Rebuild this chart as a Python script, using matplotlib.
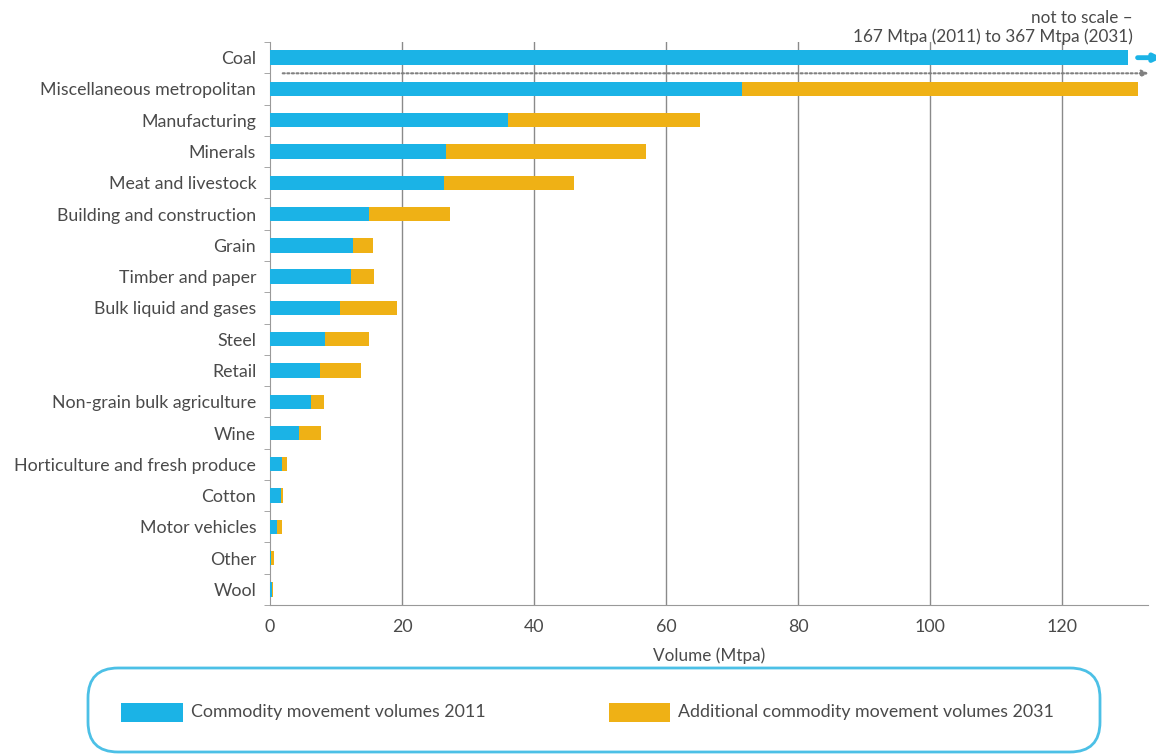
import matplotlib.pyplot as plt
from matplotlib.patches import FancyBboxPatch, Rectangle

plt.rcParams['font.family'] = ['Lato', 'DejaVu Sans']

categories = ["Coal", "Miscellaneous metropolitan", "Manufacturing", "Minerals",
              "Meat and livestock", "Building and construction", "Grain",
              "Timber and paper", "Bulk liquid and gases", "Steel", "Retail",
              "Non-grain bulk agriculture", "Wine", "Horticulture and fresh produce",
              "Cotton", "Motor vehicles", "Other", "Wool"]
vol_2011 = [130.0, 71.5, 36.0, 26.7, 26.4, 15.0, 12.6, 12.3, 10.6, 8.3, 7.6,
            6.2, 4.4, 1.8, 1.7, 1.1, 0.2, 0.3]
additional_2031 = [0.0, 60.0, 29.2, 30.3, 19.6, 12.3, 3.0, 3.5, 8.6, 6.7, 6.2,
                   2.0, 3.3, 0.8, 0.3, 0.7, 0.4, 0.2]

blue = '#1bb3e6'
orange = '#efb115'
text_col = '#4a4a4a'
fs = 12.8

fig = plt.figure(figsize=(11.56, 7.56), dpi=100)
ax = fig.add_axes([0.2336, 0.1997, 0.7595, 0.7447])

y = list(range(len(categories)))
ax.barh(y, vol_2011, height=0.46, color=blue, zorder=3)
ax.barh(y, additional_2031, left=vol_2011, height=0.46, color=orange, zorder=3)

ax.set_xlim(0, 133)
ax.set_ylim(len(categories) - 0.5, -0.5)
ax.set_yticks(y)
ax.set_yticklabels(categories)
ax.set_yticks([i + 0.5 for i in range(-1, len(categories))], minor=True)
ax.tick_params(axis='y', which='major', length=0, pad=10, labelsize=fs, labelcolor=text_col)
ax.tick_params(axis='y', which='minor', length=4, color='#999999')
ax.set_xticks([0, 20, 40, 60, 80, 100, 120])
ax.tick_params(axis='x', length=0, pad=10, labelsize=fs, labelcolor=text_col)
ax.set_xlabel("Volume (Mtpa)", fontsize=fs - 0.5, color=text_col, labelpad=9)

for x in [20, 40, 60, 80, 100, 120]:
    ax.axvline(x, color='#8a8a8a', lw=1, zorder=1)

for s in ['top', 'right']:
    ax.spines[s].set_visible(False)
for s in ['left', 'bottom']:
    ax.spines[s].set_color('#999999')

# break arrow for coal and dotted scale line
ax.annotate('', xy=(135.5, 0), xytext=(131, 0),
            arrowprops=dict(arrowstyle='-|>', color=blue, lw=3.5, mutation_scale=10),
            annotation_clip=False, zorder=4)
ax.annotate('', xy=(133.5, 0.5), xytext=(1.5, 0.5),
            arrowprops=dict(arrowstyle='-|>', color='#808080', lw=1.5, ls=(0, (1, 1.2)),
                            mutation_scale=10),
            annotation_clip=False, zorder=4)

fig.text(1133 / 1156, 1 - 10 / 756, "not to scale \u2013\n167 Mtpa (2011) to 367 Mtpa (2031)",
         ha='right', va='top', fontsize=fs - 0.5, color=text_col, linespacing=1.2)

# legend box
box = FancyBboxPatch((0.88 + 0.3, 0.04 + 0.3), 11.0 - 0.88 - 0.6, 0.88 - 0.04 - 0.6,
                     boxstyle='round,pad=0.3', transform=fig.dpi_scale_trans,
                     facecolor='white', edgecolor='#4cc0e6', lw=2, clip_on=False)
fig.patches.append(box)
fig.patches.append(Rectangle((1.21, 0.34), 0.62, 0.19, transform=fig.dpi_scale_trans,
                             facecolor=blue, edgecolor='none'))
fig.text(1.91, 0.435, "Commodity movement volumes 2011", transform=fig.dpi_scale_trans,
         va='center', fontsize=fs, color=text_col)
fig.patches.append(Rectangle((6.09, 0.34), 0.61, 0.19, transform=fig.dpi_scale_trans,
                             facecolor=orange, edgecolor='none'))
fig.text(6.78, 0.435, "Additional commodity movement volumes 2031", transform=fig.dpi_scale_trans,
         va='center', fontsize=fs, color=text_col)

fig.savefig("out.png", dpi=100)
